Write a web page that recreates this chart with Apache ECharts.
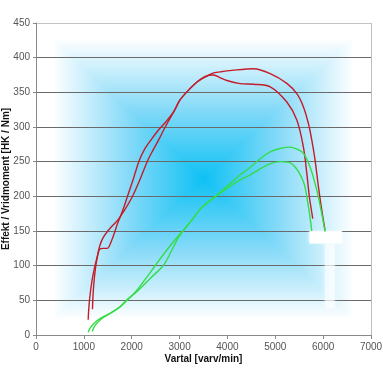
<!DOCTYPE html>
<html>
<head>
<meta charset="utf-8">
<script src="https://cdn.jsdelivr.net/npm/echarts@6/dist/echarts.min.js"></script>
<style>
html,body{margin:0;padding:0;background:#fff;}
#c{width:383px;height:369px;}
</style>
</head>
<body>
<div id="c"></div>
<script>
// ---- data ----
const xTicks = [0, 1000, 2000, 3000, 4000, 5000, 6000, 7000];
const yTicks = [0, 50, 100, 150, 200, 250, 300, 350, 400, 450];
const xName = 'Vartal [varv/min]';
const yName = 'Effekt / Vridmoment [HK / Nm]';

// torque run A (rpm, Nm)
const torqueA = [
  [1090,22],[1105,40],[1130,58],[1170,78],[1220,96],[1280,113],[1330,124],[1400,125],[1490,125],
  [1590,138],[1700,160],[1770,172],[1840,185],[1906,199],[2020,222],[2148,250],[2270,268],[2400,281],
  [2550,295],[2720,308],[2878,322],[3000,338],[3157,351],[3365,365],[3607,374.6],[3712,378],
  [3900,380],[4130,382],[4545,384],[4894,377],[5241,363],[5450,348],[5588,329],[5692,305],
  [5763,281],[5832,252],[5901,214],[5971,180],[6040,151]
];
// torque run B
const torqueB = [
  [1180,37],[1190,55],[1210,75],[1240,95],[1280,112],[1330,128],[1400,140],[1500,150],[1600,158],
  [1700,165],[1770,172],[1850,180],[2010,199],[2160,222],[2323,250],[2440,266],[2560,281],[2700,300],
  [2878,322],[3000,338],[3157,351],[3365,365],[3607,374.6],[3712,375],[3850,371],[3990,367],
  [4267,362.6],[4545,361.7],[4894,358],[5241,336],[5450,310],[5588,271],[5659,233],[5713,199],[5783,168]
];
// power run A (rpm, HK)
const powerA = [
  [1090,4],[1130,10],[1200,16],[1300,22],[1420,27],[1560,32],[1760,41],[1905,50],[2100,64],[2300,82],
  [2500,101],[2750,124],[2950,141],[3070,150],[3260,166],[3450,183],[3750,200],[4000,215],[4250,230],
  [4477,242],[4700,255],[4894,264],[5100,269],[5311,271],[5450,268],[5588,262],[5728,242],[5867,209],
  [5971,175],[6040,149]
];
// power run B
const powerB = [
  [1175,5],[1220,12],[1300,19],[1400,25],[1550,31],[1750,40],[1905,51],[2100,62],[2392,82],[2669,101],
  [2850,124],[2970,140],[3070,150],[3260,166],[3450,183],[3750,200],[4000,212],[4267,224],[4477,231],
  [4825,245],[5102,250],[5346,247],[5588,221],[5692,185],[5763,150]
];

// ---- layout ----
const W = 383, H = 369;
const G = {left: 36, right: 12, top: 23, bottom: 34};
const gl = G.left, gt = G.top, gr = W - G.right, gb = H - G.bottom;
const cx = (gl + gr) / 2, cy = (gt + gb) / 2;

const CENTER = '#0EC1F4';
function grad(x, y, x2, y2) {
  return {type: 'linear', x: x, y: y, x2: x2, y2: y2, colorStops: [
    {offset: 0, color: CENTER}, {offset: 0.45, color: '#86DAF8'}, {offset: 0.9, color: '#FFFFFF'}, {offset: 1, color: '#FFFFFF'}
  ]};
}

const bg = [
  {type: 'rect', silent: true, z: -10, shape: {x: gl, y: gt, width: gr - gl, height: gb - gt},
   style: {fill: {type: 'radial', x: 0.5, y: 0.5, r: 0.6, colorStops: [{offset: 0, color: CENTER}, {offset: 1, color: '#FFFFFF'}]}}},
  {type: 'polygon', silent: true, z: -9, shape: {points: [[gl, gt], [gr, gt], [cx, cy]]}, style: {fill: grad(0, 1, 0, 0)}},
  {type: 'polygon', silent: true, z: -9, shape: {points: [[gl, gb], [gr, gb], [cx, cy]]}, style: {fill: grad(0, 0, 0, 1)}},
  {type: 'polygon', silent: true, z: -9, shape: {points: [[gl, gt], [gl, gb], [cx, cy]]}, style: {fill: grad(1, 0, 0, 0)}},
  {type: 'polygon', silent: true, z: -9, shape: {points: [[gr, gt], [gr, gb], [cx, cy]]}, style: {fill: grad(0, 0, 1, 0)}},
  {type: 'line', silent: true, z: 5, shape: {x1: gr + 0.5, y1: gt, x2: gr + 0.5, y2: gb}, style: {stroke: '#BDBDBD', lineWidth: 1}}
];

const chart = echarts.init(document.getElementById('c'), null, {renderer: 'canvas'});

function lineSeries(name, data, color) {
  return {name: name, type: 'line', data: data, showSymbol: false, smooth: 0.3,
    lineStyle: {color: color, width: 1.4}, z: 3};
}

const gridColors = yTicks.map((v, i) => i === yTicks.length - 1 ? '#C4C4C4' : '#6A6A6A');
const plain = v => String(v);

chart.setOption({
  animation: false,
  backgroundColor: '#fff',
  graphic: bg,
  grid: {left: G.left, right: G.right, top: G.top, bottom: G.bottom, containLabel: false, outerBoundsMode: 'none'},
  xAxis: {
    type: 'value', min: xTicks[0], max: xTicks[xTicks.length - 1], interval: 1000,
    name: xName, nameLocation: 'middle', nameGap: 19, nameMoveOverlap: false,
    nameTextStyle: {fontFamily: 'Liberation Sans', fontSize: 10, fontWeight: 'bold', color: '#111'},
    axisLine: {lineStyle: {color: '#8A8A8A'}},
    axisTick: {show: true, length: 4, lineStyle: {color: '#8A8A8A'}},
    axisLabel: {fontFamily: 'Liberation Sans', fontSize: 10, color: '#555', margin: 7, formatter: plain},
    splitLine: {show: false}
  },
  yAxis: {
    type: 'value', min: yTicks[0], max: yTicks[yTicks.length - 1], interval: 50,
    name: yName, nameLocation: 'middle', nameGap: 25, nameRotate: 90, nameMoveOverlap: false,
    nameTextStyle: {fontFamily: 'Liberation Sans', fontSize: 10, fontWeight: 'bold', color: '#111'},
    axisLine: {show: true, lineStyle: {color: '#8A8A8A'}},
    axisTick: {show: true, length: 3, lineStyle: {color: '#8A8A8A'}},
    axisLabel: {fontFamily: 'Liberation Sans', fontSize: 10, color: '#555', margin: 6, formatter: plain},
    splitLine: {show: true, lineStyle: {color: gridColors, width: 1}}
  },
  series: [
    lineSeries('Vridmoment A', torqueA, '#C41C2A'),
    lineSeries('Vridmoment B', torqueB, '#C41C2A'),
    lineSeries('Effekt A', powerA, '#33DD48'),
    lineSeries('Effekt B', powerB, '#33DD48')
  ]
});

// white patch artifact below the curve ends
const p1 = chart.convertToPixel({gridIndex: 0}, [5713, 150]);
const p2 = chart.convertToPixel({gridIndex: 0}, [6389, 132]);
const s1 = chart.convertToPixel({gridIndex: 0}, [6035, 132]);
const s2 = chart.convertToPixel({gridIndex: 0}, [6244, 39]);
chart.setOption({graphic: bg.concat([
  {type: 'rect', silent: true, z: 1, shape: {x: p1[0], y: p1[1], width: p2[0] - p1[0], height: p2[1] - p1[1]},
   style: {fill: 'rgba(255,255,255,0.95)', shadowBlur: 3, shadowColor: 'rgba(255,255,255,0.9)'}},
  {type: 'rect', silent: true, z: 1, shape: {x: s1[0], y: s1[1], width: s2[0] - s1[0], height: s2[1] - s1[1]},
   style: {fill: 'rgba(255,255,255,0.55)', shadowBlur: 4, shadowColor: 'rgba(255,255,255,0.7)'}}
])});
</script>
</body>
</html>
